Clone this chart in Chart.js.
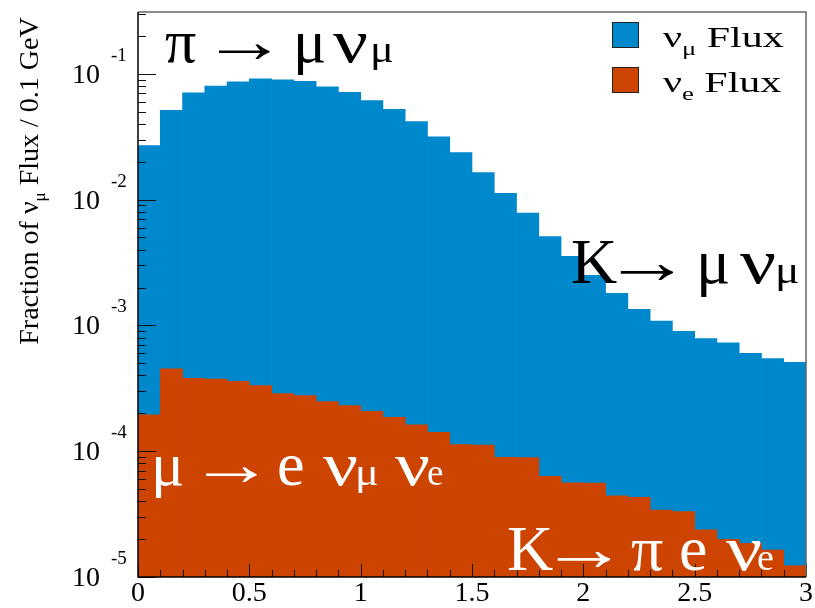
<!DOCTYPE html>
<html>
<head>
<meta charset="utf-8">
<script src="https://cdn.jsdelivr.net/npm/chart.js@4.4.1/dist/chart.umd.min.js"></script>
<style>
  html, body { margin: 0; padding: 0; background: #fff; }
  #wrap { width: 815px; height: 608px; }
</style>
</head>
<body>
<div id="wrap"><canvas id="flux"></canvas></div>
<script>
// bin centres (GeV), 0.1 GeV wide bins
var energyBins = [0.05, 0.15, 0.25, 0.35, 0.45, 0.55, 0.65, 0.75, 0.85, 0.95,
                  1.05, 1.15, 1.25, 1.35, 1.45, 1.55, 1.65, 1.75, 1.85, 1.95,
                  2.05, 2.15, 2.25, 2.35, 2.45, 2.55, 2.65, 2.75, 2.85, 2.95];

var numuFlux = [2.69e-2, 5.12e-2, 7.06e-2, 7.98e-2, 8.63e-2, 9.13e-2, 8.96e-2, 8.70e-2, 7.88e-2, 7.11e-2,
                6.14e-2, 5.21e-2, 4.18e-2, 3.15e-2, 2.36e-2, 1.64e-2, 1.12e-2, 7.82e-3, 5.09e-3, 3.54e-3,
                2.50e-3, 1.80e-3, 1.34e-3, 1.08e-3, 8.96e-4, 7.84e-4, 7.26e-4, 6.01e-4, 5.46e-4, 5.09e-4];

var nueFlux = [1.95e-4, 4.52e-4, 3.79e-4, 3.74e-4, 3.60e-4, 3.33e-4, 2.87e-4, 2.77e-4, 2.48e-4, 2.31e-4,
               2.07e-4, 1.86e-4, 1.62e-4, 1.41e-4, 1.13e-4, 1.12e-4, 8.95e-5, 8.90e-5, 6.32e-5, 5.60e-5,
               5.58e-5, 4.41e-5, 4.30e-5, 3.41e-5, 3.31e-5, 2.37e-5, 1.99e-5, 1.85e-5, 1.64e-5, 1.23e-5];

var xTickValues = [0, 0.5, 1, 1.5, 2, 2.5, 3];
var xTickLabels = ['0', '0.5', '1', '1.5', '2', '2.5', '3'];
var yTickPowers = [-5, -4, -3, -2, -1];

var SERIF = '"Liberation Serif", "DejaVu Serif", serif';
var BLUE = '#0088cc';
var ORANGE = '#cc4400';

// text pieces drawn one after another; piece = {t, s: size factor, dy, sx: x stretch}
function P(t, s, dy, sx) { return { t: t, s: s || 1, dy: dy || 0, sx: sx || 1 }; }

function drawRich(ctx, parts, x, y, size, color, sxAll) {
    var cx = x;
    sxAll = sxAll || 1;
    ctx.fillStyle = color;
    ctx.textAlign = 'left';
    ctx.textBaseline = 'alphabetic';
    parts.forEach(function (p) {
        var sx = p.sx * sxAll;
        ctx.font = Math.round(size * p.s) + 'px ' + SERIF;
        ctx.save();
        ctx.translate(cx, y + p.dy);
        ctx.scale(sx, 1);
        ctx.fillText(p.t, 0, 0);
        ctx.restore();
        cx += ctx.measureText(p.t).width * sx;
    });
    return cx - x;
}

function richWidth(ctx, parts, size) {
    var w = 0;
    parts.forEach(function (p) {
        ctx.font = Math.round(size * p.s) + 'px ' + SERIF;
        w += ctx.measureText(p.t).width * p.sx;
    });
    return w;
}

// decay label: glyphs placed one by one, [text, x, kind]
function drawDecay(ctx, glyphs, y, size, color) {
    ctx.fillStyle = color;
    ctx.textBaseline = 'alphabetic';
    glyphs.forEach(function (g) {
        var kind = g[2] || 'n';
        var fs = size, sx = 1;
        ctx.textAlign = 'left';
        if (kind === 'arrow') { sx = 1.38; ctx.textAlign = 'center'; }
        if (kind === 'nu') sx = 1.25;
        if (kind === 'sub') { fs = size * 0.6; sx = 1.2; }
        if (kind === 'sube') { fs = size * 0.6; }
        ctx.font = Math.round(fs) + 'px ' + SERIF;
        ctx.save();
        ctx.translate(g[1], y);
        ctx.scale(sx, 1);
        ctx.fillText(g[0], 0, 0);
        ctx.restore();
    });
}

var rootStyle = {
    id: 'rootStyle',
    afterDatasetsDraw: function (chart) {
        var ctx = chart.ctx;
        var a = chart.chartArea;
        var xs = chart.scales.x;
        var ys = chart.scales.y;
        ctx.save();

        // tick marks inside the frame
        ctx.strokeStyle = '#111';
        ctx.lineWidth = 1;
        ctx.beginPath();
        for (var e = -5; e <= -1; e++) {
            for (var m = 1; m <= 9; m++) {
                var v = m * Math.pow(10, e);
                if (v > ys.max) continue;
                var py = Math.round(ys.getPixelForValue(v)) + 0.5;
                var len = m === 1 ? 18 : 8;
                ctx.moveTo(a.left, py);
                ctx.lineTo(a.left + len, py);
            }
        }
        for (var i = 0; i <= 30; i++) {
            var px = Math.round(xs.getPixelForValue(i / 10)) + 0.5;
            var l2 = i % 5 === 0 ? 13 : 7;
            ctx.moveTo(px, a.bottom);
            ctx.lineTo(px, a.bottom - l2);
        }
        ctx.stroke();

        // frame
        ctx.strokeStyle = '#666';
        ctx.lineWidth = 1.5;
        ctx.beginPath();
        ctx.moveTo(a.left, a.top);
        ctx.lineTo(a.right, a.top);
        ctx.lineTo(a.right, a.bottom);
        ctx.stroke();
        ctx.strokeStyle = '#000';
        ctx.beginPath();
        ctx.moveTo(a.left, a.top);
        ctx.lineTo(a.left, a.bottom);
        ctx.lineTo(a.right, a.bottom);
        ctx.stroke();

        // y labels 10^n
        yTickPowers.forEach(function (p) {
            var py = ys.getPixelForValue(Math.pow(10, p));
            ctx.fillStyle = '#000';
            ctx.font = '28px ' + SERIF;
            ctx.textAlign = 'right';
            ctx.textBaseline = 'alphabetic';
            ctx.fillText('10', 100, py + 9);
            ctx.font = '19px ' + SERIF;
            ctx.textAlign = 'left';
            ctx.fillText('-' + (-p), 111, py - 13);
        });

        // y title
        var title = [P('Fraction of \u03bd'), P('\u03bc', 0.62, 7), P(' Flux / 0.1 GeV')];
        var tw = richWidth(ctx, title, 28);
        ctx.save();
        ctx.translate(38, 181);
        ctx.rotate(-Math.PI / 2);
        drawRich(ctx, title, -tw / 2, 0, 28, '#000');
        ctx.restore();

        // decay labels
        drawDecay(ctx, [['\u03c0', 165], ['\u2192', 244, 'arrow'], ['\u03bc', 293],
                        ['\u03bd', 333, 'nu'], ['\u03bc', 370, 'sub']], 62, 62, '#000');
        drawDecay(ctx, [['K', 571], ['\u2192', 647, 'arrow'], ['\u03bc', 696],
                        ['\u03bd', 740, 'nu'], ['\u03bc', 775, 'sub']], 283, 64, '#000');
        drawDecay(ctx, [['\u03bc', 151], ['\u2192', 231, 'arrow'], ['e', 277],
                        ['\u03bd', 323, 'nu'], ['\u03bc', 355, 'sub'],
                        ['\u03bd', 395, 'nu'], ['e', 427, 'sube']], 485, 62, '#fff');
        drawDecay(ctx, [['K', 507], ['\u2192', 584, 'arrow'], ['\u03c0', 631],
                        ['e', 679], ['\u03bd', 726, 'nu'], ['e', 757, 'sube']], 570, 64, '#fff');

        // legend
        var items = [[BLUE, '\u03bc', 22], [ORANGE, 'e', 67]];
        items.forEach(function (it) {
            ctx.fillStyle = it[0];
            ctx.fillRect(612, it[2], 27, 26);
            ctx.strokeStyle = '#222';
            ctx.lineWidth = 1;
            ctx.strokeRect(612.5, it[2] + 0.5, 26, 25);
            drawRich(ctx, [P('\u03bd'), P(it[1], 0.62, 8), P(' Flux')], 663, it[2] + 25, 30, '#000', 1.4);
        });

        ctx.restore();
    }
};

new Chart('flux', {
    type: 'bar',
    data: {
        datasets: [
            {
                label: '\u03bd\u03bc Flux',
                data: energyBins.map(function (x, i) { return { x: x, y: numuFlux[i] }; }),
                backgroundColor: BLUE,
                borderWidth: 0,
                barPercentage: 1,
                categoryPercentage: 1,
                order: 1
            },
            {
                label: '\u03bde Flux',
                data: energyBins.map(function (x, i) { return { x: x, y: nueFlux[i] }; }),
                backgroundColor: ORANGE,
                borderWidth: 0,
                barPercentage: 1,
                categoryPercentage: 1,
                order: 0
            }
        ]
    },
    options: {
        responsive: true,
        maintainAspectRatio: false,
        animation: false,
        grouped: false,
        layout: { padding: { top: 12, right: 9, left: 0, bottom: 0 } },
        plugins: { legend: { display: false }, tooltip: { enabled: false } },
        scales: {
            x: {
                type: 'linear',
                min: 0,
                max: 3,
                offset: false,
                afterFit: function (s) { s.height = 31; },
                afterBuildTicks: function (s) {
                    s.ticks = xTickValues.map(function (v) { return { value: v }; });
                },
                ticks: {
                    autoSkip: false,
                    maxRotation: 0,
                    padding: 0,
                    color: '#000',
                    font: { family: SERIF, size: 28 },
                    callback: function (v) {
                        var k = xTickValues.indexOf(v);
                        return k >= 0 ? xTickLabels[k] : '';
                    }
                },
                grid: { display: false, drawTicks: false, offset: false },
                border: { display: false }
            },
            y: {
                type: 'logarithmic',
                min: 1e-5,
                max: 0.31,
                afterFit: function (s) { s.width = 138; },
                ticks: { display: false },
                grid: { display: false, drawTicks: false },
                border: { display: false }
            }
        }
    },
    plugins: [rootStyle]
});
</script>
</body>
</html>
